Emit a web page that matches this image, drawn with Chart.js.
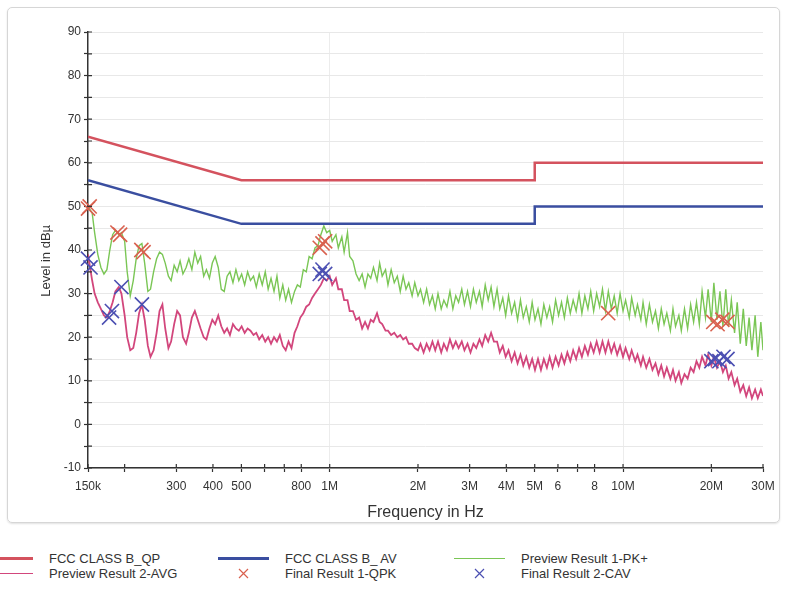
<!DOCTYPE html>
<html>
<head>
<meta charset="utf-8">
<script src="https://cdn.jsdelivr.net/npm/chart.js@4.4.1/dist/chart.umd.min.js"></script>
<style>
    body { margin: 0; background: #fff; font-family: "Liberation Sans", Arial, sans-serif; }
    #frame {
        position: absolute; left: 7px; top: 7px; width: 771px; height: 514px;
        border: 1px solid #d6d6d6; border-radius: 5px; box-shadow: 0 1px 2px rgba(0,0,0,0.12);
    }
    #legend {
        position: absolute; left: -18px; top: 551px;
        display: grid; grid-template-columns: 236px 236px 320px;
        font-size: 13px; line-height: 15px; color: #333;
    }
    .item { display: flex; align-items: center; height: 15px; white-space: nowrap; }
    .swatch { width: 51px; height: 15px; margin-right: 16px; display: flex; align-items: center; justify-content: center; }
</style>
</head>
<body>
<div id="frame"><canvas id="emi" width="771" height="514"></canvas></div>
<div id="legend"></div>
<script>
// x axis ticks (MHz)
const xTickValues = [0.15, 0.2, 0.3, 0.4, 0.5, 0.6, 0.7, 0.8, 1, 2, 3, 4, 5, 6, 7, 8, 10, 20, 30];
const xTickLabels = ['150k', '', '300', '400', '500', '', '', '800', '1M', '2M', '3M', '4M', '5M', '6', '', '8', '10M', '20M', '30M'];
const yTickValues = [-10, -5, 0, 5, 10, 15, 20, 25, 30, 35, 40, 45, 50, 55, 60, 65, 70, 75, 80, 85, 90];
const yTickLabels = ['-10', '', '0', '', '10', '', '20', '', '30', '', '40', '', '50', '', '60', '', '70', '', '80', '', '90'];

// FCC class B limits
const limitFreq = [0.15, 0.5, 5, 5, 30];
const qpLimit = [66, 56, 56, 60, 60];
const avLimit = [56, 46, 46, 50, 50];

// preview sweep frequencies (MHz)
const sweepFreq = [
    0.150, 0.155, 0.158, 0.162, 0.166, 0.170, 0.174, 0.178, 0.182, 0.186,
    0.191, 0.195, 0.200, 0.204, 0.209, 0.214, 0.219, 0.224, 0.229, 0.234,
    0.240, 0.245, 0.251, 0.257, 0.263, 0.269, 0.275, 0.282, 0.288, 0.295,
    0.302, 0.309, 0.316, 0.324, 0.331, 0.339, 0.347, 0.355, 0.363, 0.372,
    0.380, 0.389, 0.398, 0.407, 0.417, 0.427, 0.437, 0.447, 0.457, 0.468,
    0.479, 0.490, 0.501, 0.513, 0.525, 0.537, 0.550, 0.562, 0.575, 0.589,
    0.603, 0.617, 0.631, 0.646, 0.661, 0.676, 0.692, 0.708, 0.724, 0.741,
    0.759, 0.776, 0.794, 0.813, 0.832, 0.851, 0.871, 0.891, 0.912, 0.933,
    0.955, 0.977,
    1.00, 1.02, 1.05, 1.07, 1.10, 1.12, 1.15, 1.17, 1.20, 1.23,
    1.26, 1.29, 1.32, 1.35, 1.38, 1.41, 1.45, 1.48, 1.51, 1.55,
    1.58, 1.62, 1.66, 1.70, 1.74, 1.78, 1.82, 1.86, 1.91, 1.95,
    2.00, 2.04, 2.09, 2.14, 2.19, 2.24, 2.29, 2.34, 2.40, 2.45,
    2.51, 2.57, 2.63, 2.69, 2.75, 2.82, 2.88, 2.95, 3.02, 3.09,
    3.16, 3.24, 3.31, 3.39, 3.47, 3.55, 3.63, 3.72, 3.80, 3.89,
    3.98, 4.07, 4.17, 4.27, 4.37, 4.47, 4.57, 4.68, 4.79, 4.90,
    5.01, 5.13, 5.25, 5.37, 5.50, 5.62, 5.75, 5.89, 6.03, 6.17,
    6.31, 6.46, 6.61, 6.76, 6.92, 7.08, 7.24, 7.41, 7.59, 7.76,
    7.94, 8.13, 8.32, 8.51, 8.71, 8.91, 9.12, 9.33, 9.55, 9.77,
    10.0, 10.2, 10.5, 10.7, 11.0, 11.2, 11.5, 11.7, 12.0, 12.3,
    12.6, 12.9, 13.2, 13.5, 13.8, 14.1, 14.5, 14.8, 15.1, 15.5,
    15.8, 16.2, 16.6, 17.0, 17.4, 17.8, 18.2, 18.6, 19.1, 19.5,
    20.0, 20.4, 20.9, 21.4, 21.9, 22.4, 22.9, 23.4, 24.0, 24.5,
    25.1, 25.7, 26.3, 26.9, 27.5, 28.2, 28.8, 29.5, 30.0
];

// Preview Result 1-PK+ (dBµV)
const pkLevel = [
    50, 48.5, 44, 39, 36, 34.5, 35.5, 40, 43.5, 44.5,
    43.5, 44, 42, 35, 29.5, 33, 38, 41, 41.5, 37,
    30.5, 31, 35, 38, 39.5, 39, 37, 34, 33, 36.5,
    35, 37.5, 34.5, 36, 38, 35.5, 39.5, 37, 38.5, 34,
    35.5, 33.5, 37, 38.5, 36, 31, 30.5, 34, 35, 32.5,
    35.5, 33, 34.5, 32, 35, 33, 34, 31.5, 34.5, 32,
    35, 31, 33.5, 30.5, 34, 29, 32, 28.5, 31, 28,
    30.5, 32, 31.5, 35.5, 35, 38.5, 38, 40.5, 41, 43.5,
    45.5, 44,
    44.5, 42, 43.5, 40.5, 43, 39.5, 44, 38.5, 37.5, 34.5,
    33, 34.5, 31.5, 34.5, 33.5, 36, 33, 37, 34, 35.5,
    32, 35.5, 32.5, 34, 30.5, 34, 31, 32.5, 29.5, 32.5,
    29.5, 31, 28, 31, 27.5, 29.5, 26.5, 30, 26.5, 28.5,
    27, 30.5, 26.5, 29.5, 28, 31, 27.5, 30.5, 27, 31,
    28, 30.5, 27, 32, 28.5, 31.5, 27, 31, 26.5, 29,
    25, 29.5, 25.5, 28, 24, 28.5, 24.5, 27, 23.5, 28,
    24, 26.5, 23, 27.5, 24.5, 27, 23.5, 28.5, 25, 28,
    24.5, 29, 25.5, 28.5, 26, 30, 25.5, 29.5, 26.5, 30.5,
    26, 30, 27, 31, 26, 30.5, 26.5, 29.5, 25.5, 30,
    26, 28.5, 24.5, 29, 25, 27.5, 24, 28, 23, 27.5,
    23.5, 26, 22, 26.5, 23, 25.5, 21.5, 26.5, 22.5, 25,
    21.5, 26.5, 22, 27.5, 23.5, 28, 23, 30.5, 24.5, 31,
    23.5, 32.5, 24, 30.5, 22.5, 31, 22.5, 28.5, 21, 28,
    18.5, 26.5, 18, 24.5, 17, 25, 15.5, 23.5, 17
];

// Preview Result 2-AVG (dBµV)
const avgLevel = [
    39, 33, 30, 28, 26.5, 25, 24.5, 26, 28, 30.5,
    31.5, 30, 25, 20, 17, 17.5, 21, 25.5, 27.5, 24,
    18, 15.5, 17, 21, 26, 27.5, 22, 17.5, 19, 23,
    26, 25, 20, 18.5, 21, 24.5, 26, 24, 22, 20,
    19.5, 22, 24, 23, 25, 22.5, 21, 22, 20.5, 23,
    22, 21.5, 22.5, 21, 22, 21.5, 20.5, 21, 19.5, 20.5,
    19, 20, 18.5, 20, 19, 20.5, 18, 17, 19, 17.5,
    21, 22.5, 24.5, 25.5, 27, 27.5, 29, 30, 31, 32,
    33.5, 33,
    34, 32, 33.5, 31, 31, 28.5, 28.5, 26, 26, 24,
    24.5, 22, 23.5, 22, 24, 23.5, 25.5, 23.5, 23, 21.5,
    21.5, 20.5, 21, 20, 20.5, 19.5, 20, 18.5, 18.5, 17.5,
    17, 18.5, 16.5, 18.5, 17, 19, 17, 19, 16.5, 18.5,
    17, 19.5, 17.5, 19, 17.5, 19, 17, 18.5, 16.5, 18.5,
    17.5, 19.5, 18, 20.5, 19, 21, 19, 19, 16.5, 18,
    15.5, 17, 14.5, 16.5, 14, 16, 13.5, 15.5, 13, 15,
    12.5, 15, 12.5, 15, 13, 15.5, 13, 15.5, 13.5, 16,
    14, 16.5, 14.5, 17, 15, 17.5, 15.5, 18, 16, 18.5,
    16.5, 19, 16.5, 19, 16.5, 19, 16.5, 18.5, 16, 18,
    15.5, 17.5, 15, 17, 14.5, 16, 13.5, 15.5, 13, 15,
    12.5, 14, 11.5, 13.5, 11, 13, 10.5, 12.5, 10, 12,
    9.5, 11.5, 10.5, 13, 12, 14.5, 13, 15.5, 13.5, 16,
    13.5, 15.5, 13, 14.5, 12, 13.5, 10.5, 12, 9, 10.5,
    7.5, 9, 6.5, 8.5, 6, 8, 6, 8, 6.5
];

// Final results
const qpkFreq = [0.150, 0.152, 0.189, 0.193, 0.228, 0.232, 0.925, 0.945, 0.965, 8.9, 20.3, 21.0, 21.8, 22.7];
const qpkLevel = [49.5, 50, 44, 43.5, 40, 39.5, 40.5, 41.5, 42, 25.5, 23.5, 23, 24, 23.5];
const cavFreq = [0.150, 0.153, 0.177, 0.181, 0.195, 0.229, 0.925, 0.945, 0.965, 20.0, 20.6, 21.3, 22.0, 22.7];
const cavLevel = [38, 36, 24.5, 26, 31.5, 27.5, 34.5, 35.5, 34.5, 14.5, 15, 14.5, 15.5, 15];

const toPoints = (xs, ys) => xs.map((x, i) => ({ x: x, y: ys[i] }));

Chart.defaults.font.family = '"Liberation Sans", Arial, sans-serif';
Chart.defaults.color = '#333';

// tick marks that cross the axis lines
const crossTicks = {
    id: 'crossTicks',
    afterDraw: (chart) => {
        const { ctx, chartArea, scales } = chart;
        ctx.save();
        ctx.strokeStyle = '#333';
        ctx.lineWidth = 1.2;
        ctx.beginPath();
        scales.x.ticks.forEach(t => {
            const px = scales.x.getPixelForValue(t.value);
            ctx.moveTo(px, chartArea.bottom);
            ctx.lineTo(px, chartArea.bottom - 4);
        });
        scales.y.ticks.forEach(t => {
            const py = scales.y.getPixelForValue(t.value);
            ctx.moveTo(chartArea.left, py);
            ctx.lineTo(chartArea.left + 4, py);
        });
        ctx.stroke();
        ctx.restore();
    }
};

const chart = new Chart(
    document.getElementById('emi'),
    {
        type: 'line',
        plugins: [crossTicks],
        data: {
            datasets: [
                {
                    label: 'FCC CLASS B_QP',
                    data: toPoints(limitFreq, qpLimit),
                    borderColor: '#d4525e',
                    borderWidth: 2.5,
                    pointRadius: 0,
                    order: 1
                },
                {
                    label: 'FCC CLASS B_ AV',
                    data: toPoints(limitFreq, avLimit),
                    borderColor: '#3a4ea0',
                    borderWidth: 2.5,
                    pointRadius: 0,
                    order: 1
                },
                {
                    label: 'Preview Result 1-PK+',
                    data: toPoints(sweepFreq, pkLevel),
                    borderColor: '#7ac655',
                    borderWidth: 1.4,
                    pointRadius: 0,
                    order: 3
                },
                {
                    label: 'Preview Result 2-AVG',
                    data: toPoints(sweepFreq, avgLevel),
                    borderColor: '#d2467c',
                    borderWidth: 1.8,
                    pointRadius: 0,
                    order: 2
                },
                {
                    label: 'Final Result 1-QPK',
                    data: toPoints(qpkFreq, qpkLevel),
                    borderColor: '#d9614f',
                    showLine: false,
                    pointStyle: 'crossRot',
                    pointRadius: 10,
                    pointBorderWidth: 1.6,
                    clip: false,
                    order: 0
                },
                {
                    label: 'Final Result 2-CAV',
                    data: toPoints(cavFreq, cavLevel),
                    borderColor: '#4b4fb2',
                    showLine: false,
                    pointStyle: 'crossRot',
                    pointRadius: 10,
                    pointBorderWidth: 1.6,
                    clip: false,
                    order: 0
                }
            ]
        },
        options: {
            responsive: false,
            devicePixelRatio: 1,
            animation: false,
            layout: { padding: { top: 24, right: 16, left: 0, bottom: 0 } },
            elements: { line: { tension: 0 } },
            plugins: {
                legend: { display: false },
                tooltip: { enabled: false }
            },
            scales: {
                x: {
                    type: 'logarithmic',
                    bounds: 'data',
                    min: 0.15,
                    max: 30,
                    afterBuildTicks: (scale) => { scale.ticks = xTickValues.map(v => ({ value: v })); },
                    afterFit: (scale) => { scale.height = 54; },
                    ticks: {
                        autoSkip: false,
                        maxRotation: 0,
                        padding: 0,
                        font: { size: 12, lineHeight: 2.5 },
                        callback: (v, i) => xTickLabels[i]
                    },
                    grid: {
                        color: (c) => (c.tick && (c.tick.value === 1 || c.tick.value === 10)) ? '#ececec' : 'rgba(0,0,0,0)',
                        tickColor: '#333',
                        tickLength: 4,
                        tickWidth: 1.2
                    },
                    border: { color: '#333', width: 1.5 },
                    title: {
                        display: true,
                        text: 'Frequency in Hz',
                        font: { size: 16 },
                        padding: { top: 0, bottom: 0 }
                    }
                },
                y: {
                    min: -10,
                    max: 90,
                    afterBuildTicks: (scale) => { scale.ticks = yTickValues.map(v => ({ value: v })); },
                    afterFit: (scale) => { scale.width = 80; },
                    ticks: {
                        padding: 3,
                        font: { size: 12 },
                        callback: (v, i) => yTickLabels[i]
                    },
                    grid: {
                        color: '#e8e8e8',
                        tickColor: '#333',
                        tickLength: 4,
                        tickWidth: 1.2
                    },
                    border: { color: '#333', width: 1.5 },
                    title: {
                        display: true,
                        text: 'Level in dBµ\u00a0\u00a0\u00a0\u00a0\u00a0\u00a0',
                        font: { size: 13 },
                        padding: { top: 31, bottom: 0 }
                    }
                }
            }
        }
    }
);

// Legend (3 columns, 2 rows)
const legend = document.getElementById('legend');
chart.data.datasets.forEach(ds => {
    const item = document.createElement('div');
    item.className = 'item';
    const sw = document.createElement('div');
    sw.className = 'swatch';
    if (ds.showLine === false) {
        sw.innerHTML = `<svg width="11" height="11"><path d="M1 1L10 10M10 1L1 10" stroke="${ds.borderColor}" stroke-width="1.2" fill="none"/></svg>`;
    } else {
        sw.innerHTML = `<div style="width:51px;height:${ds.borderWidth > 2 ? 2.5 : 1.5}px;background:${ds.borderColor}"></div>`;
    }
    const txt = document.createElement('span');
    txt.textContent = ds.label;
    item.appendChild(sw);
    item.appendChild(txt);
    legend.appendChild(item);
});
</script>
</body>
</html>
